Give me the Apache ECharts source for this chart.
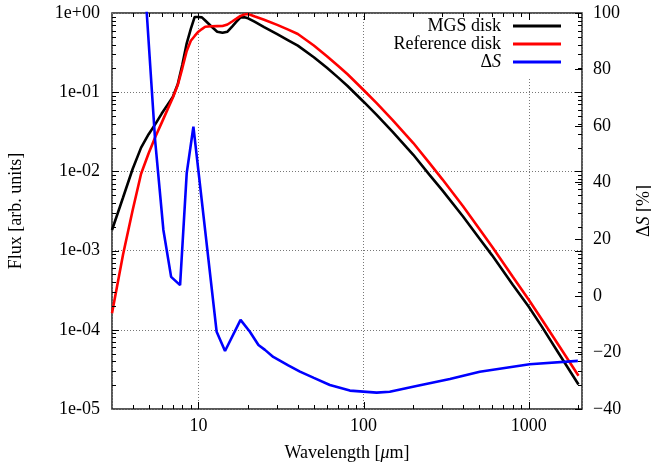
<!DOCTYPE html>
<html>
<head>
<meta charset="utf-8">
<script src="https://cdn.jsdelivr.net/npm/echarts@6/dist/echarts.min.js"></script>
<style>html,body{margin:0;padding:0;background:#fff}#c{width:651px;height:466px}</style>
</head>
<body>
<div id="c"></div>
<script>
// ---- data ----
const wavelength = [3, 3.5, 4, 4.5, 5, 5.5, 6, 6.5, 7, 7.5, 8, 8.5, 9, 9.5, 10, 10.5, 11, 12, 13, 14, 15, 16, 17, 18, 19, 20, 22, 25, 30, 35, 40, 50, 60, 70, 80, 100, 120, 150, 200, 250, 300, 400, 500, 600, 800, 1000, 1200, 1500, 2000];
// log10 of flux
const mgsLogFlux = [-2.74, -2.33, -1.97, -1.70, -1.53, -1.40, -1.27, -1.16, -1.06, -0.90, -0.65, -0.383, -0.20, -0.05, -0.05, -0.055, -0.095, -0.17, -0.236, -0.25, -0.236, -0.172, -0.11, -0.054, -0.055, -0.067, -0.112, -0.177, -0.268, -0.345, -0.412, -0.558, -0.692, -0.813, -0.922, -1.12, -1.286, -1.50, -1.79, -2.04, -2.24, -2.57, -2.84, -3.06, -3.43, -3.71, -3.96, -4.28, -4.69];
const refLogFlux = [-3.79, -3.05, -2.49, -2.03, -1.77, -1.56, -1.384, -1.22, -1.07, -0.91, -0.695, -0.48, -0.35, -0.29, -0.236, -0.203, -0.173, -0.168, -0.166, -0.165, -0.145, -0.107, -0.071, -0.036, -0.018, -0.013, -0.045, -0.085, -0.15, -0.21, -0.265, -0.41, -0.545, -0.665, -0.774, -0.972, -1.138, -1.352, -1.642, -1.892, -2.10, -2.44, -2.72, -2.95, -3.33, -3.62, -3.87, -4.18, -4.58];
const dsWavelength = [4.5, 4.87, 5.47, 6.14, 6.84, 7.75, 8.5, 9.33, 12.9, 14.5, 18.0, 20.5, 23.1, 25.3, 28.4, 35, 41.2, 50, 62.5, 82.6, 120, 144, 209, 333, 505, 1012, 1982];
const dsPercent = [133, 100, 55.1, 23.3, 6.7, 3.8, 43.4, 59.8, -12.7, -19.5, -8.5, -12.7, -17.4, -19.1, -21.6, -24.6, -26.8, -29.0, -31.5, -33.5, -34.2, -33.9, -31.9, -29.4, -26.8, -24.2, -23.0];
const seriesNames = ['MGS disk', 'Reference disk', 'ΔS'];
const xMajorTicks = [10, 100, 1000];
const xMinorTicks = [4, 5, 6, 7, 8, 9, 20, 30, 40, 50, 60, 70, 80, 90, 200, 300, 400, 500, 600, 700, 800, 900, 2000];
const yMajorTicks = [1e-4, 1e-3, 1e-2, 1e-1];
const yMinorTicks = [];
[-5, -4, -3, -2, -1].forEach(e => { for (let m = 2; m <= 9; m++) yMinorTicks.push(m * Math.pow(10, e)); });

// ---- chart ----
const FONT = "'Liberation Serif', 'DejaVu Serif', serif";
const FS = 18;
const chart = echarts.init(document.getElementById('c'), null, {renderer: 'canvas'});
const toPairs = (xs, ys, f) => xs.map((x, i) => [x, f ? f(ys[i]) : ys[i]]);

function tickSeries(values, dir, len) {
  return {
    type: 'custom', silent: true, xAxisIndex: 0, yAxisIndex: 0, z: 5,
    data: values.map(v => dir === 'x' ? [v, 0.01] : [10, v]),
    renderItem: function (params, api) {
      const cs = params.coordSys;
      const p = api.coord([api.value(0), api.value(1)]);
      const st = {stroke: '#000', lineWidth: 1};
      if (dir === 'x') {
        const x = Math.round(p[0]) + 0.5;
        return {type: 'group', children: [
          {type: 'line', shape: {x1: x, y1: cs.y + cs.height, x2: x, y2: cs.y + cs.height - len}, style: st},
          {type: 'line', shape: {x1: x, y1: cs.y, x2: x, y2: cs.y + len}, style: st}
        ]};
      } else {
        const y = Math.round(p[1]) + 0.5;
        return {type: 'group', children: [
          {type: 'line', shape: {x1: cs.x, y1: y, x2: cs.x + len, y2: y}, style: st},
          {type: 'line', shape: {x1: cs.x + cs.width, y1: y, x2: cs.x + cs.width - len, y2: y}, style: st}
        ]};
      }
    }
  };
}

const isPow10 = v => Math.abs(Math.log10(v) - Math.round(Math.log10(v))) < 1e-6;
const labelStyle = {fontFamily: FONT, fontSize: FS, color: '#000'};
const italic = {fontFamily: FONT, fontSize: FS, fontStyle: 'italic', color: '#000'};
const gridLine = {show: true, lineStyle: {color: '#777', width: 1, type: [1, 2]}};

chart.setOption({
  animation: false,
  backgroundColor: '#fff',
  grid: {left: 112, right: 69, top: 13, bottom: 57, containLabel: false, outerBoundsMode: 'none', show: true, borderColor: '#222', borderWidth: 1.5, backgroundColor: 'transparent'},
  legend: {
    data: seriesNames, orient: 'vertical', align: 'right', right: 86, top: 15,
    icon: 'rect', itemWidth: 48, itemHeight: 3, itemGap: 0,
    backgroundColor: '#fff', padding: [2, 4, 6, 4],
    textStyle: {fontFamily: FONT, fontSize: FS, color: '#000', lineHeight: 17.5, padding: [0, 7, 0, 0], rich: {i: Object.assign({lineHeight: 17.5}, italic)}},
    formatter: n => n === 'ΔS' ? 'Δ{i|S}' : n
  },
  xAxis: {
    type: 'log', logBase: 10, min: 3, max: 2100,
    name: 'Wavelength [{i|μ}m]', nameLocation: 'middle', nameGap: 35,
    nameTextStyle: Object.assign({rich: {i: italic}}, labelStyle),
    axisLine: {show: false}, axisTick: {show: false},
    axisLabel: Object.assign({margin: 8, showMinLabel: true, showMaxLabel: true, formatter: v => isPow10(v) ? String(Math.round(v)) : ''}, labelStyle),
    splitLine: gridLine, minorTick: {show: false}
  },
  yAxis: [{
    type: 'log', logBase: 10, min: 1e-5, max: 1,
    name: 'Flux [arb. units]', nameLocation: 'middle', nameGap: 87, nameRotate: 90,
    nameTextStyle: labelStyle,
    axisLine: {show: false}, axisTick: {show: false},
    axisLabel: Object.assign({margin: 12, formatter: v => {
      const e = Math.round(Math.log10(v));
      return '1e' + (e < 0 ? '-' : '+') + String(Math.abs(e)).padStart(2, '0');
    }}, labelStyle),
    splitLine: gridLine
  }, {
    type: 'value', min: -40, max: 100, interval: 20, position: 'right',
    name: '{d|Δ}{i|S} [%]', nameLocation: 'middle', nameGap: 53, nameRotate: 90,
    nameTextStyle: Object.assign({rich: {d: labelStyle, i: italic}}, labelStyle),
    axisLine: {show: false}, axisTick: {show: true, inside: true, length: 7, lineStyle: {color: '#000', width: 1}},
    axisLabel: Object.assign({margin: 11, formatter: v => String(v).replace('-', '\u2212')}, labelStyle),
    splitLine: {show: false}
  }],
  series: [
    {name: seriesNames[0], type: 'line', data: toPairs(wavelength, mgsLogFlux, v => Math.pow(10, v)), showSymbol: false, symbol: 'none', lineStyle: {color: '#000', width: 2.6}, itemStyle: {color: '#000'}, z: 3},
    {name: seriesNames[1], type: 'line', data: toPairs(wavelength, refLogFlux, v => Math.pow(10, v)), showSymbol: false, symbol: 'none', lineStyle: {color: '#ff0000', width: 2.6}, itemStyle: {color: '#ff0000'}, z: 3},
    {name: seriesNames[2], type: 'line', yAxisIndex: 1, data: toPairs(dsWavelength, dsPercent), showSymbol: false, symbol: 'none', lineStyle: {color: '#0000ff', width: 2.6}, itemStyle: {color: '#0000ff'}, z: 3},
    tickSeries(xMajorTicks, 'x', 7),
    tickSeries(xMinorTicks, 'x', 4),
    tickSeries(yMajorTicks, 'y', 7),
    tickSeries(yMinorTicks, 'y', 4)
  ]
});
</script>
</body>
</html>
